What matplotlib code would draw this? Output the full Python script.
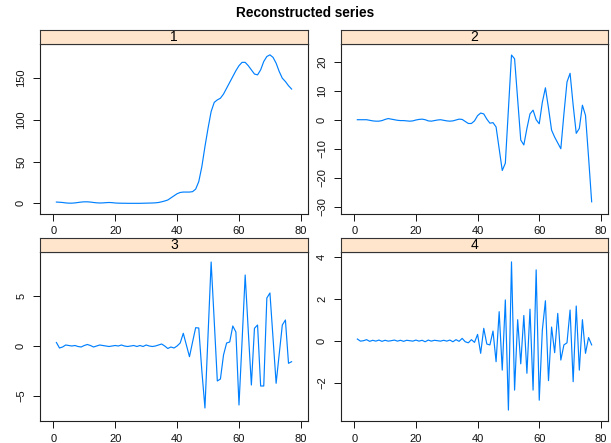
"""Recreate the lattice-style 'Reconstructed series' panel plot."""
import matplotlib
matplotlib.use("Agg")
import matplotlib.pyplot as plt
import numpy as np

plt.rcParams["font.family"] = ["Liberation Sans", "DejaVu Sans"]

# Data: four reconstructed components, index 1..77
index = np.arange(1, 78)

series_1 = [1.5, 1.3, 1.0, 0.5, 0.2, 0.2, 0.5, 1.0, 1.5, 1.8,
            1.8, 1.5, 1.0, 0.6, 0.4, 0.5, 0.8, 1.0, 0.8, 0.4,
            0.2, 0.1, 0.1, 0.0, 0.0, 0.0, 0.0, 0.0, 0.1, 0.2,
            0.3, 0.4, 0.6, 1.0, 1.8, 2.8, 4.0, 6.5, 9.0, 11.5,
            13.0, 13.5, 13.5, 13.5, 14.0, 17.0, 26.0, 44.0, 68.0, 90.0,
            110, 121, 124, 126, 131, 138, 145, 152, 159, 165,
            169, 169, 165, 160, 155, 154, 160, 170, 176, 178,
            175, 168, 158, 150, 146, 141, 137]

series_2 = [0.0, 0.0, 0.0, 0.0, -0.2, -0.4, -0.5, -0.5, -0.3, 0.1,
            0.4, 0.2, 0.0, -0.2, -0.3, -0.3, -0.4, -0.5, -0.4, -0.1,
            0.1, 0.2, 0.0, -0.4, -0.5, -0.3, -0.1, 0.0, -0.2, -0.4,
            -0.5, -0.4, -0.1, 0.2, 0.1, -0.6, -1.3, -1.3, -0.4, 1.4,
            2.3, 2.0, 0.2, -1.2, -1.0, -2.5, -10.0, -17.5, -15.0, 3.6,
            22.3, 21.0, 7.0, -7.0, -8.7, -3.0, 2.0, 3.3, 0.0, -1.4,
            6.0, 11.0, 4.0, -3.6, -6.0, -8.0, -10.0, 2.0, 13.0, 16.0,
            5.0, -4.7, -3.0, 5.0, 1.5, -13.0, -28.3]

series_3 = [0.35, -0.2, -0.1, 0.1, 0.05, 0.0, 0.05, -0.05, -0.1, 0.05,
            0.15, 0.05, -0.1, 0.0, 0.1, 0.05, 0.0, -0.05, 0.0, 0.05,
            0.0, 0.1, 0.0, -0.05, 0.0, 0.05, -0.05, 0.05, -0.05, 0.1,
            0.0, -0.05, 0.0, 0.1, 0.2, 0.0, -0.25, -0.1, -0.2, 0.0,
            0.3, 1.27, 0.1, -1.07, 0.4, 1.83, 1.8, -2.5, -6.2, 1.1,
            8.4, 2.5, -3.5, -3.3, -0.9, 0.3, 0.4, 2.0, 1.4, -5.9,
            0.5, 7.1, 1.5, -3.9, 1.77, 2.1, -4.0, -4.0, 4.8, 5.3,
            0.8, -3.73, -0.8, 2.1, 2.6, -1.73, -1.57]

series_4 = [0.08, -0.02, 0.0, 0.05, -0.03, 0.02, -0.02, 0.03, -0.03, 0.02,
            -0.02, 0.0, 0.03, -0.02, 0.02, -0.03, 0.02, 0.0, -0.02, 0.03,
            -0.02, 0.02, -0.05, 0.03, -0.02, 0.02, 0.0, -0.02, 0.02, -0.02,
            0.03, -0.05, 0.05, -0.03, 0.11, -0.05, -0.1, 0.05, -0.08, 0.3,
            -0.6, 0.59, -0.16, -0.2, 0.46, -1.0, 1.38, -1.4, 1.94, -3.3,
            3.75, -2.35, 1.0, -1.1, 1.2, -1.55, 1.5, -2.35, 3.37, -2.83,
            0.5, 1.9, -1.9, 0.65, -0.57, 1.3, -0.92, -0.2, -0.1, 1.46,
            -1.95, 1.65, -1.4, 1.0, -0.6, 0.15, -0.2]

panel_labels = ["1", "2", "3", "4"]
y_ticks = [[0, 50, 100, 150],
           [-30, -20, -10, 0, 10, 20],
           [-5, 0, 5],
           [-2, 0, 2, 4]]
y_limits = [(-12.8, 191), (-32.5, 26.1), (-7.5, 9.4), (-3.82, 4.22)]
x_ticks = [0, 20, 40, 60, 80]

LINE_COLOR = "#0080ff"
STRIP_COLOR = "#ffe5cc"

W, H = 611, 443


def frac(left, top, right, bottom):
    """Pixel box -> figure fraction rect."""
    return [left / W, 1 - bottom / H, (right - left) / W, (bottom - top) / H]


def draw_panel(fig, box, strip_top, label, y, yticks, ylim):
    left, top, right, bottom = box
    ax = fig.add_axes(frac(left, top, right, bottom))
    ax.plot(index, y, color=LINE_COLOR, linewidth=0.85)
    ax.set_xlim(-4.3, 82.3)
    ax.set_ylim(*ylim)
    ax.set_xticks(x_ticks)
    ax.set_yticks(yticks)
    ax.tick_params(direction="out", length=5, width=0.7, labelsize=8,
                   pad=4, colors="#111111")
    ax.tick_params(axis="y", labelrotation=90, pad=5)
    for lbl in ax.get_yticklabels():
        lbl.set_verticalalignment("center")
    for sp in ax.spines.values():
        sp.set_linewidth(0.8)
        sp.set_color("#222222")

    sx = fig.add_axes(frac(left, strip_top, right, top))
    sx.set_facecolor(STRIP_COLOR)
    sx.set_xticks([])
    sx.set_yticks([])
    for sp in sx.spines.values():
        sp.set_linewidth(0.8)
        sp.set_color("#333333")
    sx.text(0.5, 0.47, label, ha="center", va="center", fontsize=10,
            transform=sx.transAxes)
    return ax


def main():
    fig = plt.figure(figsize=(W / 100, H / 100), dpi=100)
    fig.text(0.5, 1 - 13 / H, "Reconstructed series", ha="center", va="center",
             fontsize=9.8, fontweight="bold")

    data = [series_1, series_2, series_3, series_4]
    boxes = [(40, 44, 308, 214), (341, 44, 608, 214),
             (40, 252, 308, 421), (341, 252, 608, 421)]
    strip_tops = [30, 30, 238, 238]

    for i in range(4):
        draw_panel(fig, boxes[i], strip_tops[i], panel_labels[i], data[i],
                   y_ticks[i], y_limits[i])

    fig.savefig("out.png", dpi=100)
    plt.close(fig)


if __name__ == "__main__":
    main()
